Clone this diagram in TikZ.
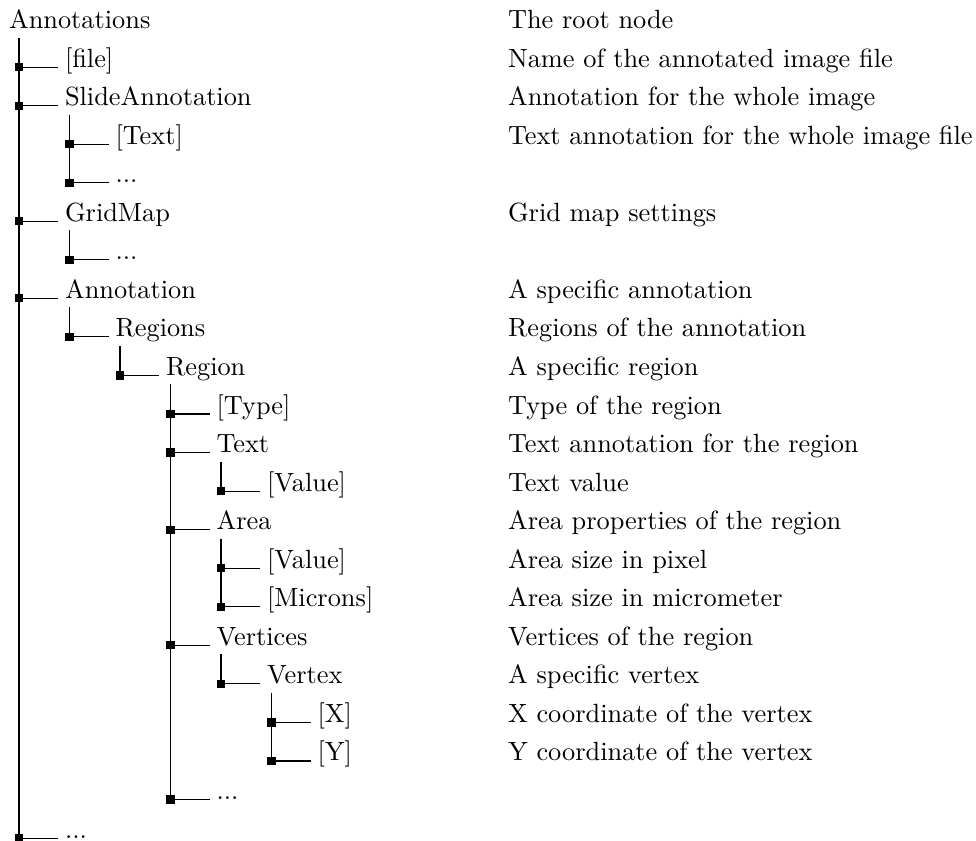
\documentclass[tikz,border=0pt]{standalone}
\usetikzlibrary{calc}
\begin{document}
\begin{tikzpicture}[x=0.3797pt,y=-0.3797pt,
  entrytext/.style={anchor=base west,inner xsep=2.66pt,inner ysep=0pt,outer sep=0pt,font=\fontsize{10}{12}\selectfont},
  branch/.style={line width=0.4pt,black},
  dtknot/.style={rectangle,fill=black,inner sep=0pt,minimum size=3.1pt}]
\useasboundingbox (0,0) rectangle (976,840);

% one tree entry: #1 column of the knot, #2 row, #3 text, #4 description
\newcommand\dtentry[4]{%
  \draw[branch] ({19+50.5*#1},{28.5+38.55*#2}) coordinate (n#2-p) -- ++(39,0) coordinate (n#2-e);
  \node[dtknot] (n#2-k) at (n#2-p) {};
  \node[entrytext] (n#2) at (n#2-e) {#3};
  \node[entrytext] (d#2) at (501,{28.5+38.55*#2}) {#4};
}
% vertical stem below entry #1 down to the knot of entry #2
\newcommand\dtstem[2]{%
  \draw[branch] ($(n#2-k.center |- #1.base)+(0,9)$) -- (n#2-k.center);
}

\node[entrytext] (root) at (2,28.5) {Annotations};
\node[entrytext] (droot) at (501,28.5) {The root node};

\dtentry{0}{1}{[file]}{Name of the annotated image file}
\dtentry{0}{2}{SlideAnnotation}{Annotation for the whole image}
\dtentry{1}{3}{[Text]}{Text annotation for the whole image file}
\dtentry{1}{4}{...}{}
\dtentry{0}{5}{GridMap}{Grid map settings}
\dtentry{1}{6}{...}{}
\dtentry{0}{7}{Annotation}{A specific annotation}
\dtentry{1}{8}{Regions}{Regions of the annotation}
\dtentry{2}{9}{Region}{A specific region}
\dtentry{3}{10}{[Type]}{Type of the region}
\dtentry{3}{11}{Text}{Text annotation for the region}
\dtentry{4}{12}{[Value]}{Text value}
\dtentry{3}{13}{Area}{Area properties of the region}
\dtentry{4}{14}{[Value]}{Area size in pixel}
\dtentry{4}{15}{[Microns]}{Area size in micrometer}
\dtentry{3}{16}{Vertices}{Vertices of the region}
\dtentry{4}{17}{Vertex}{A specific vertex}
\dtentry{5}{18}{[X]}{X coordinate of the vertex}
\dtentry{5}{19}{[Y]}{Y coordinate of the vertex}
\dtentry{3}{20}{...}{}
\dtentry{0}{21}{...}{}

\dtstem{root}{21}
\dtstem{n2}{4}
\dtstem{n5}{6}
\dtstem{n7}{8}
\dtstem{n8}{9}
\dtstem{n9}{20}
\dtstem{n11}{12}
\dtstem{n13}{15}
\dtstem{n16}{17}
\dtstem{n17}{19}
\end{tikzpicture}
\end{document}
